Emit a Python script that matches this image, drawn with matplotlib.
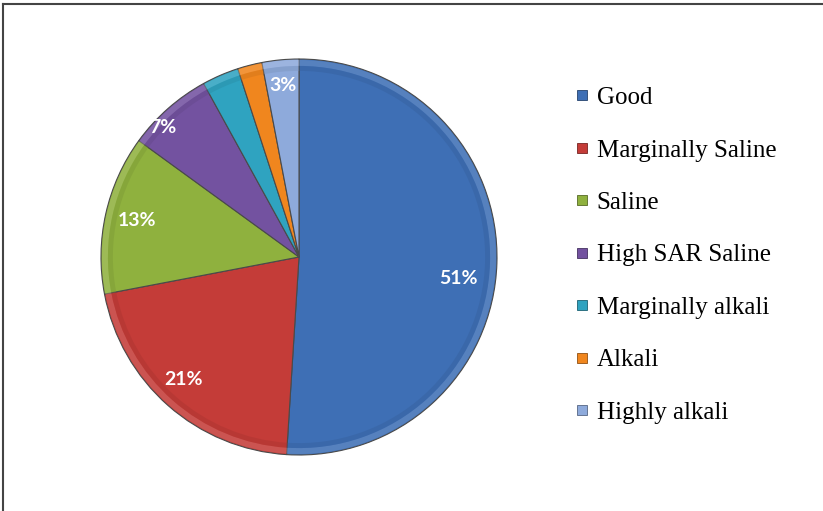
import numpy as np
import matplotlib.pyplot as plt
from matplotlib.lines import Line2D
from matplotlib.colors import to_rgb

# water quality classes and their share of samples (%)
categories = ['Good', 'Marginally Saline', 'Saline', 'High SAR Saline',
              'Marginally alkali', 'Alkali', 'Highly alkali']
shares = [51, 21, 13, 7, 3, 2, 3]
shown = [True, True, True, True, False, False, True]

colors = ['#3e6fb5', '#c43c38', '#8fb13e', '#7352a0', '#2fa3c0', '#f0861e', '#8eaadb']

fig = plt.figure(figsize=(8.23, 5.11), dpi=100)
fig.patch.set_facecolor('white')

# pie area in pixel terms: centre ~ (299, 257), radius ~ 198
W, H = 823, 511
r_px = 198
ax = fig.add_axes([(299 - r_px) / W, 1 - (257 + r_px) / H, 2 * r_px / W, 2 * r_px / H])

def darker(c, f=0.7):
    return tuple(v * f for v in to_rgb(c))

def lighter(c, f=0.35):
    return tuple(v + (1 - v) * f for v in to_rgb(c))

wedges, _ = ax.pie(shares, colors=colors, startangle=90, counterclock=False,
                   radius=1.0,
                   wedgeprops=dict(linewidth=0.8, edgecolor='#4a4a4a'))

# light bevel around the rim
ax.pie(shares, colors=[lighter(c, 0.25) for c in colors], startangle=90, counterclock=False,
       radius=0.995, wedgeprops=dict(width=0.03, linewidth=0, alpha=0.5))
# darker band just inside the bevel
ax.pie(shares, colors=[darker(c, 0.85) for c in colors], startangle=90, counterclock=False,
       radius=0.965, wedgeprops=dict(width=0.025, linewidth=0, alpha=0.4))

# percentage labels: (radius factor, angle shift in degrees) per wedge
label_pos = [(0.815, -6.0), (0.85, -2.0), (0.84, 0.0), (0.95, 5.0),
             (0.85, 0.0), (0.85, 0.0), (0.87, 0.0)]
for w, s, show, (lr, dang) in zip(wedges, shares, shown, label_pos):
    if not show:
        continue
    ang = np.deg2rad((w.theta1 + w.theta2) / 2 + dang)
    ax.text(lr * np.cos(ang), lr * np.sin(ang), f'{s}%', ha='center', va='center',
            color='white', fontsize=14, fontweight='bold', family='Lato')

ax.set_xlim(-1, 1)
ax.set_ylim(-1, 1)
ax.set_aspect('equal')

# legend
handles = [Line2D([], [], marker='s', linestyle='', markersize=6.5,
                  markerfacecolor=c, markeredgecolor=darker(c, 0.6), markeredgewidth=0.6)
           for c in colors]
fig.legend(handles, categories, loc='upper left',
           bbox_to_anchor=(548 / W, 1 - 64 / H), frameon=False,
           prop={'family': 'Liberation Serif', 'size': 18},
           labelspacing=1.2, handletextpad=0.15, handlelength=0.9)

# outer frame lines (top and left)
fig.add_artist(Line2D([3 / W, 1], [1 - 4 / H, 1 - 4 / H], color='#444444', linewidth=1.5))
fig.add_artist(Line2D([3 / W, 3 / W], [0, 1 - 4 / H], color='#444444', linewidth=1.5))

fig.savefig('out.png', dpi=100)
